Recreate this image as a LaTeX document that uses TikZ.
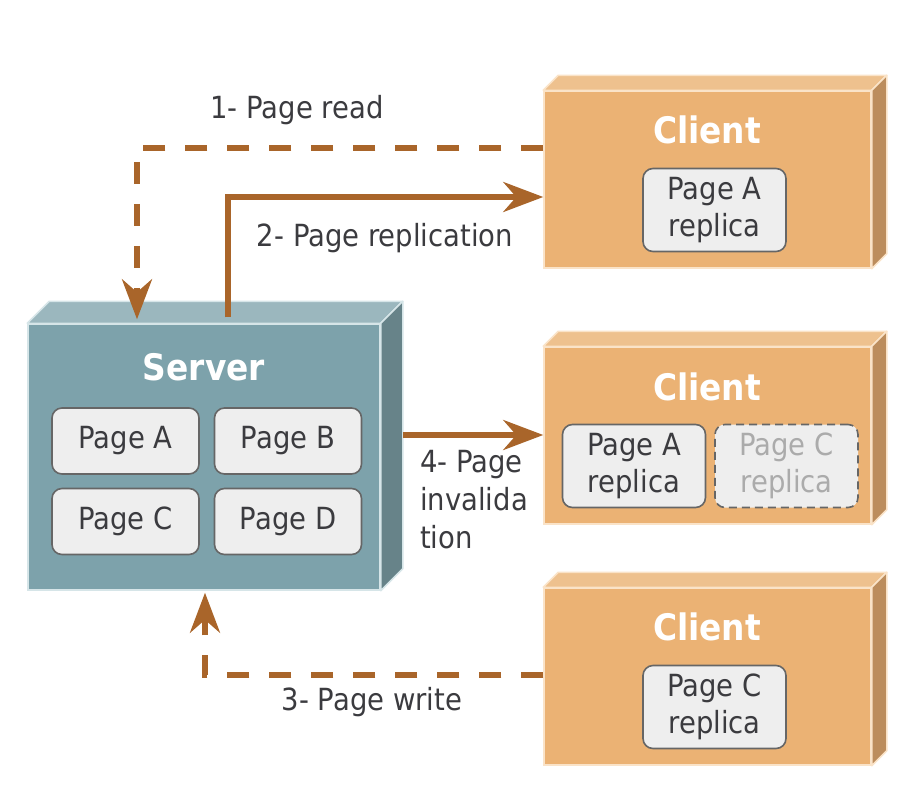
\documentclass[tikz,border=0pt]{standalone}
\usepackage{fontspec}
\setmainfont{DejaVu Sans}[FakeStretch=0.9]
\usetikzlibrary{arrows.meta}

\definecolor{srvfront}{HTML}{7DA2AB}
\definecolor{srvtop}{HTML}{9BB7BE}
\definecolor{srvside}{HTML}{678389}
\definecolor{srvedge}{HTML}{D6E5E8}
\definecolor{clifront}{HTML}{EBB274}
\definecolor{clitop}{HTML}{EEC18E}
\definecolor{cliside}{HTML}{BC8D5D}
\definecolor{cliedge}{HTML}{FAE3C8}
\definecolor{pagefill}{HTML}{EEEEEE}
\definecolor{pageedge}{HTML}{666666}
\definecolor{ink}{HTML}{3B3B3F}
\definecolor{flow}{HTML}{A9652A}
\definecolor{faded}{HTML}{ABABAB}

% top and right faces of a box whose front face is node #1
\newcommand\solidfaces[5]{%
  \filldraw[fill=#3, draw=#5, line width=1.5pt, line join=round]
    (#1.north west) -- ++(#2,-#2) -- ([shift={(#2,-#2)}]#1.north east)
    -- (#1.north east) -- cycle;
  \filldraw[fill=#4, draw=#5, line width=1.5pt, line join=round]
    (#1.north east) -- ++(#2,-#2) -- ([shift={(#2,-#2)}]#1.south east)
    -- (#1.south east) -- cycle;
}

\tikzset{
  front/.style={rectangle, inner sep=0pt, line width=1.5pt},
  srvbox/.style={front, fill=srvfront, draw=srvedge,
    minimum width=352pt, minimum height=266pt},
  clibox/.style={front, fill=clifront, draw=cliedge,
    minimum width=327pt, minimum height=177pt},
  title/.style={text=white, font=\bfseries\fontsize{36.5}{40}\selectfont},
  pagebox/.style={rectangle, rounded corners=10pt, fill=pagefill,
    draw=pageedge, line width=1.6pt, text=ink, align=center,
    font=\fontsize{30.5}{36.5}\selectfont, inner sep=0pt},
  srvpage/.style={pagebox, minimum width=147pt, minimum height=66pt},
  replica/.style={pagebox, minimum width=143pt, minimum height=83pt},
  ghost/.style={replica, dashed, dash pattern=on 8pt off 5pt, text=faded},
  lbl/.style={text=ink, font=\fontsize{30.5}{38}\selectfont, inner sep=0pt},
  flowline/.style={draw=flow, line width=5.5pt,
    -{Stealth[length=40pt, width=30pt, inset=13pt]}},
  dashflow/.style={flowline, dash pattern=on 22pt off 20pt},
}

\begin{document}
\begin{tikzpicture}[x=1pt, y=-1pt]
\useasboundingbox (0,0) rectangle (918,798);

% server
\node[srvbox] (server) at (204,457) {};
\solidfaces{server}{22}{srvtop}{srvside}{srvedge}
\node[title] (servertitle) at (204,367) {Server};
\node[srvpage] (pa) at (125.5,441) {Page A};
\node[srvpage] (pb) at (288,441) {Page B};
\node[srvpage] (pc) at (125.5,521.5) {Page C};
\node[srvpage] (pd) at (288,521.5) {Page D};

% clients
\node[clibox] (c1) at (707.5,179.5) {};
\solidfaces{c1}{15}{clitop}{cliside}{cliedge}
\node[title] (c1title) at (707,130) {Client};
\node[replica] (c1a) at (714.5,210) {Page A\\replica};

\node[clibox] (c2) at (707.5,435.5) {};
\solidfaces{c2}{15}{clitop}{cliside}{cliedge}
\node[title] (c2title) at (707,387) {Client};
\node[replica] (c2a) at (634,466) {Page A\\replica};
\node[ghost] (c2c) at (786.5,466) {Page C\\replica};

\node[clibox] (c3) at (707.5,676.5) {};
\solidfaces{c3}{15}{clitop}{cliside}{cliedge}
\node[title] (c3title) at (707,627) {Client};
\node[replica] (c3c) at (714.5,707) {Page C\\replica};

% message flows
\draw[dashflow, shorten >=4pt] (c1.west |- 0,148) -- (137,148) -- (server.north -| 137,0);
\draw[flowline, shorten <=6pt] (server.north -| 228,0) -- (228,197) -- (c1.west |- 0,197);
\draw[flowline, shorten <=22pt] (server.east |- 0,435) -- (c2.west |- 0,435);
\draw[dashflow, shorten >=2pt] (c3.west |- 0,675) -- (205,675) -- (server.south -| 205,0);

% flow labels
\node[lbl] (l1) at (297,110) {1- Page read};
\node[lbl] (l2) at (385,238) {2- Page replication};
\node[lbl, anchor=west, align=left] (l4) at (420,500) {4- Page\\invalida\\tion};
\node[lbl] (l3) at (372,702) {3- Page write};
\end{tikzpicture}
\end{document}
